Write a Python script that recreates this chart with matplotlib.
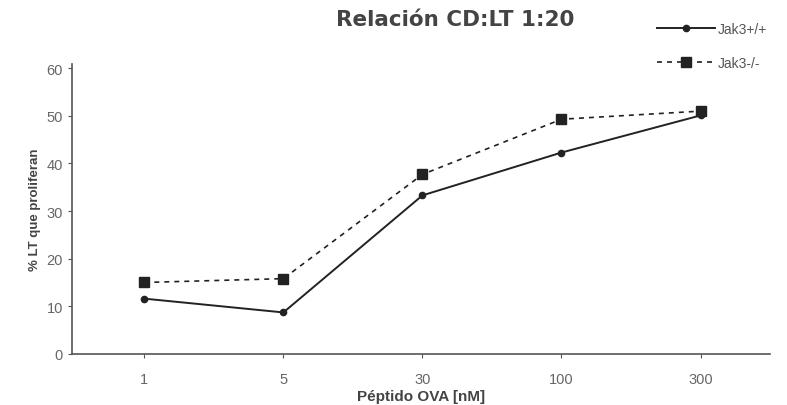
import matplotlib
matplotlib.use("Agg")
import matplotlib.pyplot as plt

plt.rcParams['font.family'] = ['Liberation Sans', 'DejaVu Sans']

categories = ["1", "5", "30", "100", "300"]
jak3_wt = [11.6, 8.7, 33.3, 42.3, 50.1]
jak3_ko = [15.0, 15.8, 37.7, 49.3, 51.0]
yticks = [0, 10, 20, 30, 40, 50, 60]

fig = plt.figure(figsize=(7.87, 4.06), dpi=100)
ax = fig.add_axes([0.0915, 0.126, 0.887, 0.715])
x = list(range(len(categories)))
l1, = ax.plot(x, jak3_wt, color='#222222', lw=1.4, marker='o', ms=4.5, label='Jak3+/+')
l2, = ax.plot(x, jak3_ko, color='#222222', lw=1.2, ls=(0, (3, 3)), marker='s', ms=7, label='Jak3-/-')

ax.set_xlim(-0.52, 4.5)
ax.set_ylim(0, 61)
ax.set_xticks(x)
ax.set_xticklabels(categories)
ax.set_yticks(yticks)
for s in ['top', 'right']:
    ax.spines[s].set_visible(False)
for s in ['left', 'bottom']:
    ax.spines[s].set_color('#555555')
    ax.spines[s].set_linewidth(1.2)
ax.tick_params(axis='both', colors='#555555', labelcolor='#666666', labelsize=10.5, length=3)
ax.tick_params(axis='x', pad=10)
ax.set_xlabel('Péptido OVA [nM]', fontsize=11, fontweight='bold', color='#444444', labelpad=2)
ax.set_ylabel('% LT que proliferan', fontsize=9.5, fontweight='bold', color='#444444', labelpad=4)
fig.text(455 / 787, 1 - 20 / 406, 'Relación CD:LT 1:20', ha='center', va='center', fontsize=15.5,
         fontweight='bold', color='#444444', family='DejaVu Sans')
fig.legend(handles=[l1, l2], loc='upper left', bbox_to_anchor=(657 / 787, 1 - 23 / 406),
           frameon=False, borderaxespad=0, borderpad=0,
           fontsize=10, labelcolor='#555555', handlelength=4.2, labelspacing=1.45, handletextpad=0.2)
fig.savefig('out.png', dpi=100)
